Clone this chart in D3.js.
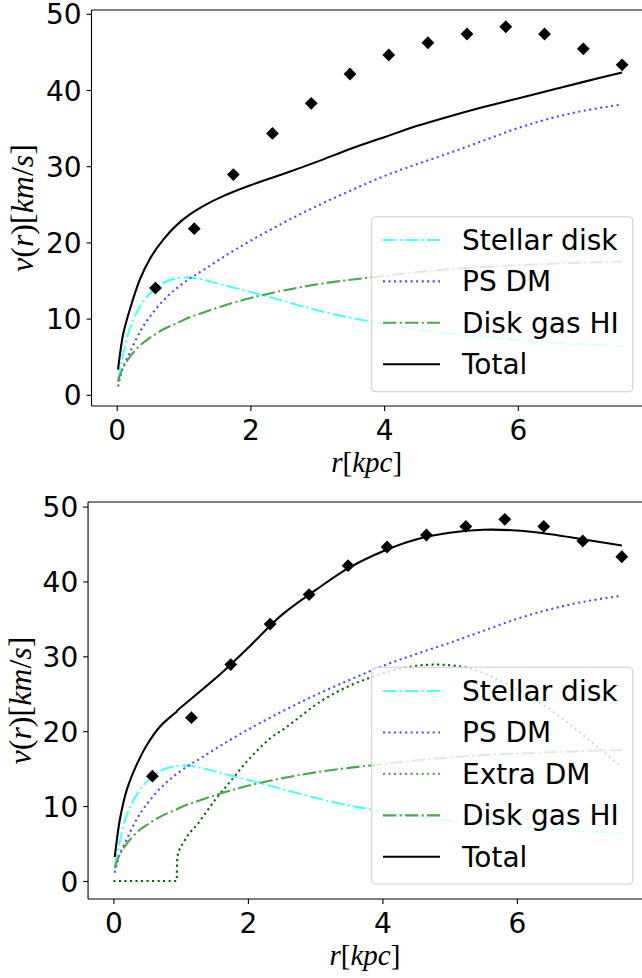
<!DOCTYPE html>
<html>
<head>
<meta charset="utf-8">
<script src="https://cdn.jsdelivr.net/npm/d3@7"></script>
<style>
  html, body { margin: 0; padding: 0; background: #fff; }
  svg { display: block; }
</style>
</head>
<body>
<svg id="chart" width="642" height="978"></svg>
<script>
// ---------- data ----------
const rObs = [0.58, 1.16, 1.745, 2.33, 2.91, 3.49, 4.07, 4.655, 5.24, 5.82, 6.40, 6.98, 7.56];
const vObs = [14.0, 21.8, 28.9, 34.3, 38.25, 42.1, 44.6, 46.2, 47.35, 48.3, 47.35, 45.4, 43.3];

const rGrid = [0.02, 0.05, 0.1, 0.2, 0.35, 0.5, 0.7, 0.9, 1.1, 1.3, 1.6, 2.0, 2.5, 3.0, 3.5, 4.0, 4.5, 5.0, 5.5, 6.0, 6.5, 7.0, 7.56];
const vStellar = [1.9, 3.3, 5.5, 8.8, 11.6, 13.3, 14.7, 15.3, 15.4, 15.1, 14.4, 13.5, 12.3, 11.1, 10.1, 9.3, 8.6, 8.0, 7.6, 7.2, 6.9, 6.6, 6.4];
const vPSDM = [1.1, 2.2, 3.7, 5.6, 8.3, 10.3, 12.4, 14.0, 15.3, 16.4, 18.1, 20.2, 22.6, 24.8, 26.8, 28.7, 30.3, 31.8, 33.4, 35.0, 36.3, 37.3, 38.1];
const vGas = [1.7, 2.6, 3.6, 5.0, 6.5, 7.5, 8.6, 9.4, 10.2, 10.8, 11.7, 12.7, 13.7, 14.5, 15.1, 15.6, 16.1, 16.5, 16.8, 17.0, 17.2, 17.35, 17.5];
const vTotalTop = [3.3, 5.4, 8.1, 11.3, 15.2, 17.9, 20.4, 22.3, 23.7, 24.8, 26.1, 27.5, 29.0, 30.6, 32.3, 33.8, 35.3, 36.6, 37.8, 38.9, 40.0, 41.1, 42.3];

const rExtra = [0, 0.3, 0.6, 0.94, 0.95, 1.06, 1.26, 1.51, 1.75, 2.0, 2.3, 2.58, 3.12, 3.83, 4.3, 4.77, 5.25, 5.8, 6.44, 7.13, 7.56];
const vExtra = [0, 0, 0, 0, 3.2, 5.4, 7.7, 10.8, 13.4, 16.1, 18.8, 20.6, 24.2, 27.2, 28.4, 28.9, 28.5, 26.5, 23.2, 18.4, 15.2];

const rTotalBot = [0.02, 0.05, 0.1, 0.2, 0.35, 0.5, 0.7, 0.9, 0.94, 0.95, 1.1, 1.3, 1.6, 2.0, 2.5, 3.0, 3.5, 4.0, 4.5, 5.0, 5.5, 6.0, 6.5, 7.0, 7.56];
const vTotalBot = [3.2, 5.4, 8.4, 12.2, 15.6, 18.2, 20.7, 22.3, 22.6, 22.75, 23.9, 25.4, 27.7, 31.1, 35.5, 38.8, 41.8, 44.0, 45.6, 46.5, 46.9, 46.8, 46.3, 45.6, 44.8];

const xTicks = [0, 2, 4, 6];
const yTicks = [0, 10, 20, 30, 40, 50];

const zip = (xs, ys) => xs.map((x, i) => [x, ys[i]]);

// ---------- styles ----------
const LW = 2.08;
const DASHDOT = "13.3,3.3,2.1,3.3";
const DOT = "2.08,3.44";
const S = {
  stellar: { label: "Stellar disk", color: "#4dffff", dash: DASHDOT },
  psdm:    { label: "PS DM",        color: "#4d4dff", dash: DOT },
  extra:   { label: "Extra DM",     color: "#006400", dash: DOT, legendColor: "#62a062", monotone: true },
  gas:     { label: "Disk gas HI",  color: "#4da64d", dash: DASHDOT },
  total:   { label: "Total",        color: "#000000", dash: null }
};
const SANS = "'DejaVu Sans', sans-serif";
const SERIF = "'Liberation Serif', 'DejaVu Serif', serif";

const svg = d3.select("#chart");

function drawPanel(cfg) {
  const x = d3.scaleLinear().domain([-0.377, 7.917])
    .range([cfg.x0 - 0.377 * cfg.xUnit, cfg.x0 + 7.917 * cfg.xUnit]);
  const y = d3.scaleLinear().domain(cfg.yDomain).range([cfg.bottom, cfg.top]);
  const g = svg.append("g");

  const smooth = d3.line().x(d => x(d[0])).y(d => y(d[1])).curve(d3.curveCatmullRom.alpha(0.5));
  const mono = d3.line().x(d => x(d[0])).y(d => y(d[1])).curve(d3.curveMonotoneX);

  cfg.series.forEach(s => {
    const st = S[s.key];
    g.append("path")
      .datum(zip(s.r, s.v))
      .attr("d", st.monotone ? mono : smooth)
      .attr("fill", "none")
      .attr("stroke", st.color)
      .attr("stroke-width", LW)
      .attr("stroke-dasharray", st.dash)
      .attr("stroke-linecap", "butt")
      .attr("stroke-linejoin", "round");
  });

  const diamond = d3.symbol().type(d3.symbolSquare).size(82);
  g.selectAll("path.obs").data(zip(rObs, vObs)).enter().append("path")
    .attr("class", "obs")
    .attr("d", diamond)
    .attr("transform", d => `translate(${x(d[0])},${y(d[1])}) rotate(45)`)
    .attr("fill", "#000");

  const xl = x.range()[0], xr = x.range()[1];
  g.append("line").attr("x1", xl).attr("x2", xl).attr("y1", cfg.top).attr("y2", cfg.bottom)
    .attr("stroke", "#000").attr("stroke-width", 1.1);
  g.append("line").attr("x1", xl).attr("x2", xr).attr("y1", cfg.bottom).attr("y2", cfg.bottom)
    .attr("stroke", "#000").attr("stroke-width", 1.1);
  g.append("line").attr("x1", xl).attr("x2", xr).attr("y1", cfg.top).attr("y2", cfg.top)
    .attr("stroke", "#000").attr("stroke-width", 1.1);

  const yAxis = d3.axisLeft(y).tickValues(yTicks).tickSize(4.9).tickPadding(4.9).tickFormat(d3.format("d"));
  const ya = g.append("g").attr("transform", `translate(${xl},0)`).call(yAxis);
  ya.select(".domain").remove();
  ya.selectAll("text").style("font-family", SANS).style("font-size", "28px").attr("fill", "#000").attr("dy", "0.36em");
  ya.selectAll("line").attr("stroke", "#000").attr("stroke-width", 1.1);

  const xAxis = d3.axisBottom(x).tickValues(xTicks).tickSize(4.9).tickPadding(4.9).tickFormat(d3.format("d"));
  const xa = g.append("g").attr("transform", `translate(0,${cfg.bottom})`).call(xAxis);
  xa.select(".domain").remove();
  xa.selectAll("text").style("font-family", SANS).style("font-size", "28px").attr("fill", "#000").attr("dy", "0.86em");
  xa.selectAll("line").attr("stroke", "#000").attr("stroke-width", 1.1);

  // axis labels (math-style)
  const xlab = g.append("text")
    .attr("x", (xl + xr) / 2 - 2).attr("y", cfg.bottom + 66)
    .attr("text-anchor", "middle")
    .style("font-family", SERIF).style("font-size", "29px");
  xlab.append("tspan").style("font-style", "italic").text("r");
  xlab.append("tspan").text("[");
  xlab.append("tspan").style("font-style", "italic").text("kpc");
  xlab.append("tspan").text("]");

  const ylab = g.append("text")
    .attr("transform", `translate(${cfg.ylabX},${(cfg.top + cfg.bottom) / 2}) rotate(-90)`)
    .attr("text-anchor", "middle")
    .style("font-family", SERIF).style("font-size", "32px");
  ylab.append("tspan").style("font-style", "italic").text("v");
  ylab.append("tspan").text("(");
  ylab.append("tspan").style("font-style", "italic").text("r");
  ylab.append("tspan").text(")[");
  ylab.append("tspan").style("font-style", "italic").text("km");
  ylab.append("tspan").text("/");
  ylab.append("tspan").style("font-style", "italic").text("s");
  ylab.append("tspan").text("]");

  const L = cfg.legend;
  const lg = g.append("g");
  lg.append("rect")
    .attr("x", L.x).attr("y", L.y).attr("width", L.w).attr("height", L.h)
    .attr("rx", 4).attr("ry", 4)
    .attr("fill", "#fff").attr("fill-opacity", 0.8)
    .attr("stroke", "#d0d0d0").attr("stroke-width", 1.1);
  L.keys.forEach((k, i) => {
    const st = S[k];
    const yy = L.row0 + i * L.step;
    lg.append("line")
      .attr("x1", 383).attr("x2", 440).attr("y1", yy).attr("y2", yy)
      .attr("stroke", st.legendColor || st.color)
      .attr("stroke-width", LW)
      .attr("stroke-dasharray", st.dash);
    lg.append("text")
      .attr("x", 462).attr("y", yy + 10)
      .style("font-family", SANS).style("font-size", "28px")
      .attr("fill", "#000")
      .text(st.label);
  });
}

drawPanel({
  top: 10, bottom: 406, x0: 116.7, xUnit: 66.85,
  yDomain: [-1.47, 50.5], ylabX: 33,
  series: [
    { key: "stellar", r: rGrid, v: vStellar },
    { key: "psdm", r: rGrid, v: vPSDM },
    { key: "gas", r: rGrid, v: vGas },
    { key: "total", r: rGrid, v: vTotalTop }
  ],
  legend: { x: 371.7, y: 216.7, w: 261, h: 175, row0: 240, step: 41.4,
            keys: ["stellar", "psdm", "gas", "total"] }
});

drawPanel({
  top: 502, bottom: 899, x0: 113.4, xUnit: 67.25,
  yDomain: [-2.41, 50.61], ylabX: 31,
  series: [
    { key: "stellar", r: rGrid, v: vStellar },
    { key: "psdm", r: rGrid, v: vPSDM },
    { key: "extra", r: rExtra, v: vExtra },
    { key: "gas", r: rGrid, v: vGas },
    { key: "total", r: rTotalBot, v: vTotalBot }
  ],
  legend: { x: 371.7, y: 667.3, w: 261, h: 216.7, row0: 691, step: 41.45,
            keys: ["stellar", "psdm", "extra", "gas", "total"] }
});
</script>
</body>
</html>
